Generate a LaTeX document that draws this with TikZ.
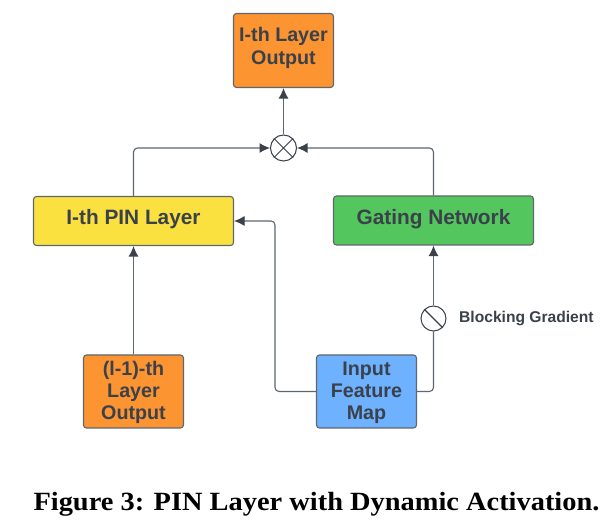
\documentclass[tikz,border=0pt]{standalone}
\usepackage{fontspec}
\setmainfont{Liberation Sans}
\newfontfamily\capfont[FakeStretch=1.08]{Liberation Serif}
\usetikzlibrary{arrows.meta}
\definecolor{ink}{HTML}{3A414A}
\definecolor{edge}{HTML}{5E6670}
\definecolor{orangebox}{HTML}{FC9432}
\definecolor{yellowbox}{HTML}{FAE13F}
\definecolor{greenbox}{HTML}{53C65D}
\definecolor{bluebox}{HTML}{6DB1FF}
\newcommand{\boxlines}[3]{\raisebox{#1pt}[0pt][0pt]{\fontsize{19.7}{#2}\selectfont\begin{tabular}[t]{@{}c@{}}#3\end{tabular}}}
\tikzset{
  x=1pt,y=-1pt,
  box/.style={draw=edge,line width=1.1pt,rounded corners=3pt,inner sep=0pt,align=center,text=ink,
    font=\fontsize{19.7}{22.7}\selectfont\bfseries},
  widetext/.style={font=\fontsize{20.8}{24}\selectfont\bfseries},
  conn/.style={draw=edge,line width=1.1pt,rounded corners=4pt,-{Latex[length=10.5pt,width=10pt,color=ink]}},
  plain/.style={draw=edge,line width=1.1pt,rounded corners=4pt},
  circ/.style={circle,draw=ink,line width=1pt,fill=white,inner sep=0pt},
}
\begin{document}
\begin{tikzpicture}
\useasboundingbox (0,0) rectangle (614,521);
\node[box,fill=orangebox,minimum width=100pt,minimum height=74pt] (out) at (283.5,50.5) {\boxlines{9.2}{23.6}{I-th Layer\\Output}};
\node[box,widetext,fill=yellowbox,minimum width=200pt,minimum height=49pt] (pin) at (133.5,221) {\raisebox{-3.3pt}[0pt][0pt]{I-th PIN Layer}};
\node[box,widetext,fill=greenbox,minimum width=200pt,minimum height=49pt] (gate) at (433.5,220.5) {\raisebox{-3.6pt}[0pt][0pt]{Gating Network}};
\node[box,fill=orangebox,minimum width=100pt,minimum height=73pt] (prev) at (133.5,391.5) {\boxlines{15.5}{21.8}{(l-1)-th\\Layer\\Output}};
\node[box,fill=bluebox,minimum width=100pt,minimum height=73pt] (input) at (366.5,391.5) {\boxlines{15.5}{21.8}{Input\\Feature\\Map}};
\node[circ,minimum size=26pt] (mul) at (283.5,148) {};
\draw[ink,line width=1pt] (mul.north west) -- (mul.south east) (mul.north east) -- (mul.south west);
\node[circ,minimum size=25pt] (block) at (433.5,318.5) {};
\draw[ink,line width=1.2pt] (block.north west) -- (block.south east);
\node[anchor=west,text=ink,inner sep=0pt,font=\fontsize{15.6}{18}\selectfont\bfseries] (blocktxt) at (459,318.5) {Blocking Gradient};
\node[anchor=base,inner sep=0pt,text=black,font=\capfont\fontsize{26.3}{30}\selectfont\bfseries] (cap) at (316.5,511) {Figure 3: PIN Layer with Dynamic Activation.};
\draw[conn] (mul.north) -- (out.south);
\draw[conn] (pin.north) |- (mul.west);
\draw[conn] (gate.north) |- (mul.east);
\draw[conn] (prev.north) -- (pin.south);
\draw[conn] (input.west) -| (275,221) -- (pin.east);
\draw[plain] (input.east) -| (block.south);
\draw[conn] (block.north) -- (gate.south);
\end{tikzpicture}
\end{document}
